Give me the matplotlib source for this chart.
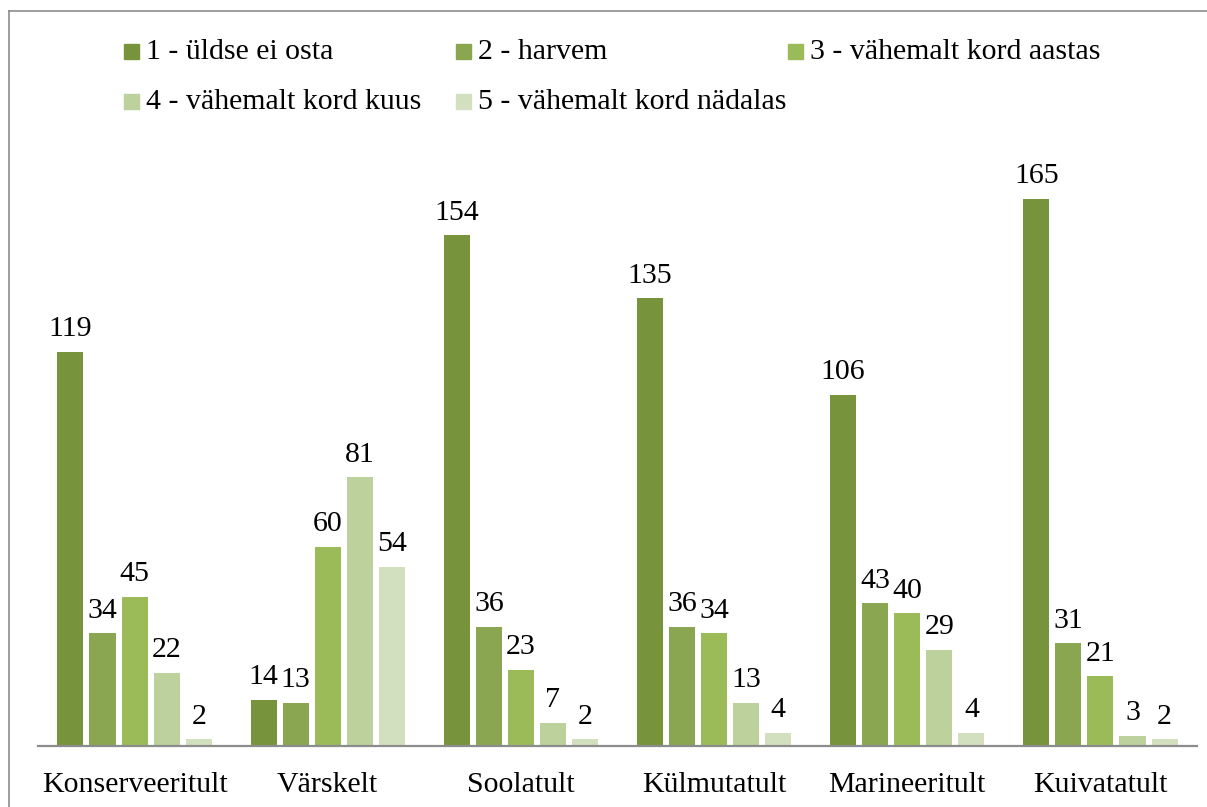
"""Grouped bar chart of purchase frequency by preservation method."""

import matplotlib.pyplot as plt
import numpy as np
from matplotlib.lines import Line2D
from matplotlib.patches import Rectangle

plt.rcParams["font.family"] = ["Liberation Serif", "DejaVu Serif"]

categories = ["Konserveeritult", "Värskelt", "Soolatult", "Külmutatult", "Marineeritult", "Kuivatatult"]
series_labels = [
    "1 - üldse ei osta",
    "2 - harvem",
    "3 - vähemalt kord aastas",
    "4 - vähemalt kord kuus",
    "5 - vähemalt kord nädalas",
]
values = [
    [119, 14, 154, 135, 106, 165],
    [34, 13, 36, 36, 43, 31],
    [45, 60, 23, 34, 40, 21],
    [22, 81, 7, 13, 29, 3],
    [2, 54, 2, 4, 4, 2],
]
colors = ["#77933C", "#8BA651", "#9BBB59", "#BCD19B", "#D3E0C0"]

FS = 21.5
W, H = 1207, 807
fig = plt.figure(figsize=(W / 100, H / 100), dpi=100)
ax = fig.add_axes([38 / W, 61 / H, 1159 / W, 596.7 / H])

x = np.arange(len(categories))
step = 0.166
width = 0.135
for i, (vals, col) in enumerate(zip(values, colors)):
    pos = x + (i - 2) * step
    bars = ax.bar(pos, vals, width=width, color=col, edgecolor="none")
    for b, v in zip(bars, vals):
        ax.annotate(str(v), (b.get_x() + b.get_width() / 2, v), xytext=(0, 7),
                    textcoords="offset points", ha="center", va="bottom", fontsize=FS)

ax.set_xlim(-0.5, len(categories) - 0.5)
ax.set_ylim(0, 180)
ax.set_xticks(x)
ax.set_xticklabels(categories, fontsize=FS)
ax.tick_params(axis="x", length=0, pad=19)
ax.set_yticks([])
for side in ["top", "left", "right"]:
    ax.spines[side].set_visible(False)
ax.spines["bottom"].set_color("#8C8C8C")
ax.spines["bottom"].set_linewidth(1.6)

# legend laid out by hand in pixel coordinates
legend_pos = [(124, 51), (456, 51), (788, 51), (124, 101), (456, 101)]
for (px, py), lab, col in zip(legend_pos, series_labels, colors):
    fig.patches.append(Rectangle((px / W, 1 - (py + 7.5) / H), 15 / W, 15 / H,
                                 transform=fig.transFigure, color=col))
    fig.text((px + 22) / W, 1 - (py + 1) / H, lab, fontsize=FS, va="center", ha="left")

# outer frame
frame_kw = dict(transform=fig.transFigure, color="#8C8C8C", linewidth=1.2)
fig.lines.append(Line2D([9 / W, 1], [1 - 11 / H, 1 - 11 / H], **frame_kw))
fig.lines.append(Line2D([9 / W, 9 / W], [1 - 11 / H, 0], **frame_kw))

fig.savefig("out.png", dpi=100)
